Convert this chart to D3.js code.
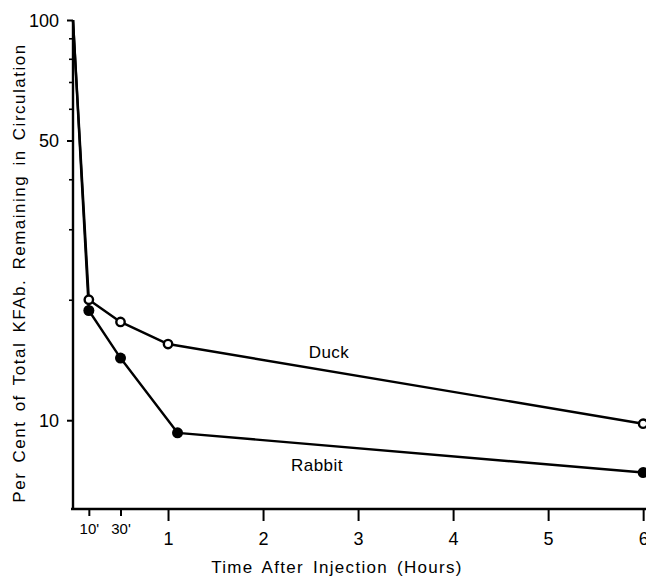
<!DOCTYPE html>
<html>
<head>
<meta charset="utf-8">
<script src="https://cdn.jsdelivr.net/npm/d3@7"></script>
<style>
  html, body { margin: 0; padding: 0; background: #fff; }
  svg { display: block; }
  text { font-family: "Liberation Sans", Arial, sans-serif; fill: #000; }
</style>
</head>
<body>
<svg id="chart" width="646" height="578"></svg>
<script>
// ---- data ----
const duckTimes    = [0, 1/6, 0.5, 1.0, 6];
const duckValues   = [100, 20.0, 17.6, 15.5, 9.8];
const rabbitTimes  = [0, 1/6, 0.5, 1.1, 6];
const rabbitValues = [100, 18.8, 14.3, 9.3, 7.4];

const xMinorTicks  = [1/6, 0.5];
const xMinorLabels = ["10'", "30'"];
const xMajorTicks  = [1, 2, 3, 4, 5, 6];
const yMajorTicks  = [10, 50, 100];
const yMinorTicks  = [20, 30, 40, 60, 70, 80, 90];

const seriesNames  = ["Duck", "Rabbit"];
const xTitle = "Time After Injection (Hours)";
const yTitle = "Per Cent of Total KFAb. Remaining in Circulation";

// ---- layout ----
const svg = d3.select("#chart");
const mLeft = 73, mRight = 646, mTop = 20, mBottom = 509;

const x = d3.scaleLinear().domain([0, 6.03]).range([mLeft, mRight]);
const y = d3.scaleLog().domain([6, 100]).range([mBottom, mTop]);

const strokeW = 2.4;

// y axis major
const yMaj = svg.append("g").attr("transform", `translate(${mLeft},0)`)
  .call(d3.axisLeft(y).tickValues(yMajorTicks).tickFormat(d3.format("d")).tickSize(6).tickPadding(8));
yMaj.select(".domain").attr("stroke-width", strokeW).attr("d", `M0,${mTop}V${mBottom}`);
yMaj.selectAll(".tick line").attr("stroke-width", 2);
yMaj.selectAll(".tick text").style("font-size", "18px").attr("dy", "0.36em");

// y axis minor
const yMin = svg.append("g").attr("transform", `translate(${mLeft},0)`)
  .call(d3.axisLeft(y).tickValues(yMinorTicks).tickFormat("").tickSize(4));
yMin.select(".domain").remove();
yMin.selectAll(".tick line").attr("stroke-width", 1.6);

// x axis minor (10', 30')
const xMin = svg.append("g").attr("transform", `translate(0,${mBottom})`)
  .call(d3.axisBottom(x).tickValues(xMinorTicks)
    .tickFormat((d, i) => xMinorLabels[i]).tickSize(7).tickPadding(7));
xMin.select(".domain").remove();
xMin.selectAll(".tick line").attr("stroke-width", 2);
xMin.selectAll(".tick text").style("font-size", "15px");

// x axis major
const xMaj = svg.append("g").attr("transform", `translate(0,${mBottom})`)
  .call(d3.axisBottom(x).tickValues(xMajorTicks).tickFormat(d3.format("d")).tickSize(12).tickPadding(11));
xMaj.select(".domain").attr("stroke-width", strokeW).attr("d", `M${mLeft - 2},0H${mRight}`);
xMaj.selectAll(".tick line").attr("stroke-width", 2);
xMaj.selectAll(".tick text").style("font-size", "18px");

// titles
svg.append("text")
  .attr("x", 337).attr("y", 573)
  .attr("text-anchor", "middle")
  .style("font-size", "17px")
  .style("letter-spacing", "1.3px")
  .style("word-spacing", "3px")
  .text(xTitle);

svg.append("text")
  .attr("transform", "translate(25,273) rotate(-90)")
  .attr("text-anchor", "middle")
  .style("font-size", "17px")
  .style("letter-spacing", "1.5px")
  .style("word-spacing", "3px")
  .text(yTitle);

// lines
const line = d3.line().x(d => x(d[0])).y(d => y(d[1]));
const duck = duckTimes.map((t, i) => [t, duckValues[i]]);
const rabbit = rabbitTimes.map((t, i) => [t, rabbitValues[i]]);

svg.append("path").datum(rabbit).attr("d", line)
  .attr("fill", "none").attr("stroke", "#000").attr("stroke-width", strokeW).attr("stroke-linejoin", "round");
svg.append("path").datum(duck).attr("d", line)
  .attr("fill", "none").attr("stroke", "#000").attr("stroke-width", strokeW).attr("stroke-linejoin", "round");

// markers (no marker on the 0-time point)
svg.selectAll("circle.rabbit").data(rabbit.slice(1)).enter().append("circle")
  .attr("class", "rabbit")
  .attr("cx", d => x(d[0])).attr("cy", d => y(d[1])).attr("r", 5.5)
  .attr("fill", "#000");
svg.selectAll("circle.duck").data(duck.slice(1)).enter().append("circle")
  .attr("class", "duck")
  .attr("cx", d => x(d[0])).attr("cy", d => y(d[1])).attr("r", 4.2)
  .attr("fill", "#fff").attr("stroke", "#000").attr("stroke-width", 2.4);

// series labels
svg.append("text").attr("x", 329).attr("y", 358).attr("text-anchor", "middle")
  .style("font-size", "17px").style("letter-spacing", "0.5px").text(seriesNames[0]);
svg.append("text").attr("x", 317).attr("y", 471).attr("text-anchor", "middle")
  .style("font-size", "17px").style("letter-spacing", "0.5px").text(seriesNames[1]);
</script>
</body>
</html>
